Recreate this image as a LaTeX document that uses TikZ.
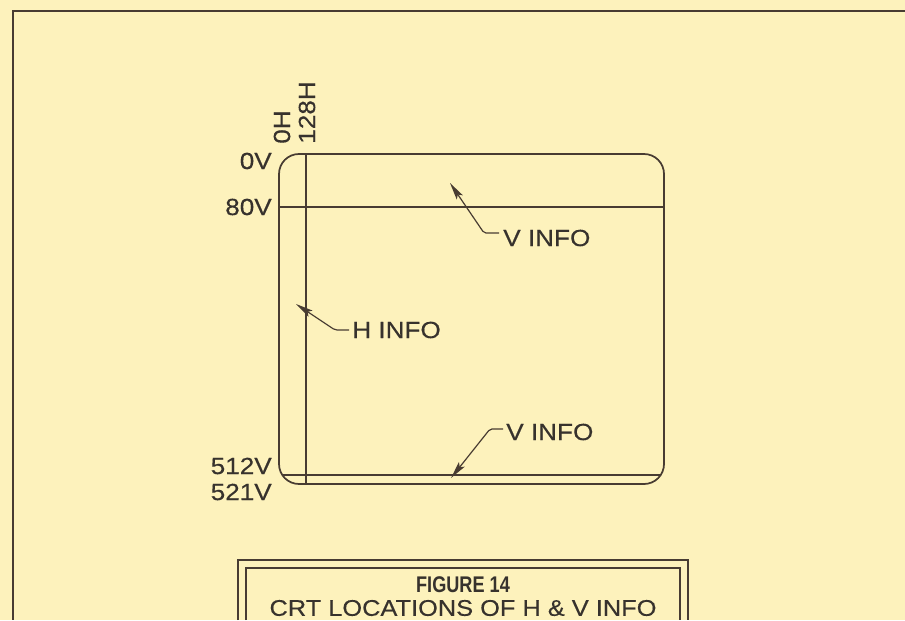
\documentclass[tikz,border=0pt]{standalone}
\usepackage{fontspec}
\setmainfont{Liberation Sans}[FakeStretch=1.12,FakeBold=0.4]
\newfontfamily\titlefont{Liberation Sans}[FakeStretch=0.8]
\usetikzlibrary{arrows.meta}
\definecolor{paper}{RGB}{253,242,188}
\definecolor{ink}{RGB}{72,60,50}
\definecolor{textink}{RGB}{55,50,45}

\tikzset{
  screen/.style={ink,line width=1.3pt},
  scanline/.style={ink,line width=0.8pt},
  lbl/.style={textink,inner sep=0pt,font=\fontsize{17.5}{19}\selectfont},
  leader/.style={ink,line width=0.9pt,rounded corners=1.5pt,
    -{Stealth[length=13pt,width=5.5pt,inset=2.5pt]}},
}

\begin{document}
\begin{tikzpicture}[x=0.75pt,y=-0.75pt]
    \path[use as bounding box,fill=paper] (0,0) rectangle (905,620);
    \draw[ink,line width=2pt] (905,11) -- (13,11) -- (13,620);
    % screen and scan lines
    \draw[screen,rounded corners=15pt] (279,154) rectangle (664,484);
    \draw[scanline] (306,154) -- (306,484);
    \draw[scanline] (279,207) -- (664,207);
    \draw[scanline] (283,475) -- (660,475);
    \foreach \v/\y in {0V/161,80V/207,512V/466,521V/492} {
      \node[lbl,anchor=east] (lab \v) at (272,\y) {\v};
    }
    \foreach \h/\x in {0H/282,128H/307} {
      \node[lbl,rotate=90,anchor=west] (lab \h) at (\x,144) {\h};
    }
    % info pointers
    \node[lbl,anchor=west] (vinfo top) at (503,238) {V INFO};
    \node[lbl,anchor=west] (hinfo) at (352,330) {H INFO};
    \node[lbl,anchor=west] (vinfo bot) at (506,432) {V INFO};
    \coordinate (tip vtop) at (450,183);
    \coordinate (tip h) at (296,304);
    \coordinate (tip vbot) at (451,478);
    \draw[leader] (vinfo top.west) ++(-4,-5) -- ++(-15,0) -- (tip vtop);
    \draw[leader] (hinfo.west) ++(-3,0) -- ++(-14,0) -- (tip h);
    \draw[leader] (vinfo bot.west) ++(-3,-3) -- ++(-13,0) -- (tip vbot);
    % caption box
    \draw[ink,line width=2.2pt] (238,620) |- (688,560) -- (688,620);
    \draw[ink,line width=1.5pt] (246,620) |- (680,568) -- (680,620);
    \node[textink,inner sep=0pt,font=\titlefont\bfseries\fontsize{17}{19}\selectfont]
      (fig num) at (463,585) {FIGURE 14};
    \node[lbl,font=\fontsize{17}{19}\selectfont] (fig title) at (463,608)
      {CRT LOCATIONS OF H \& V INFO};
\end{tikzpicture}
\end{document}
